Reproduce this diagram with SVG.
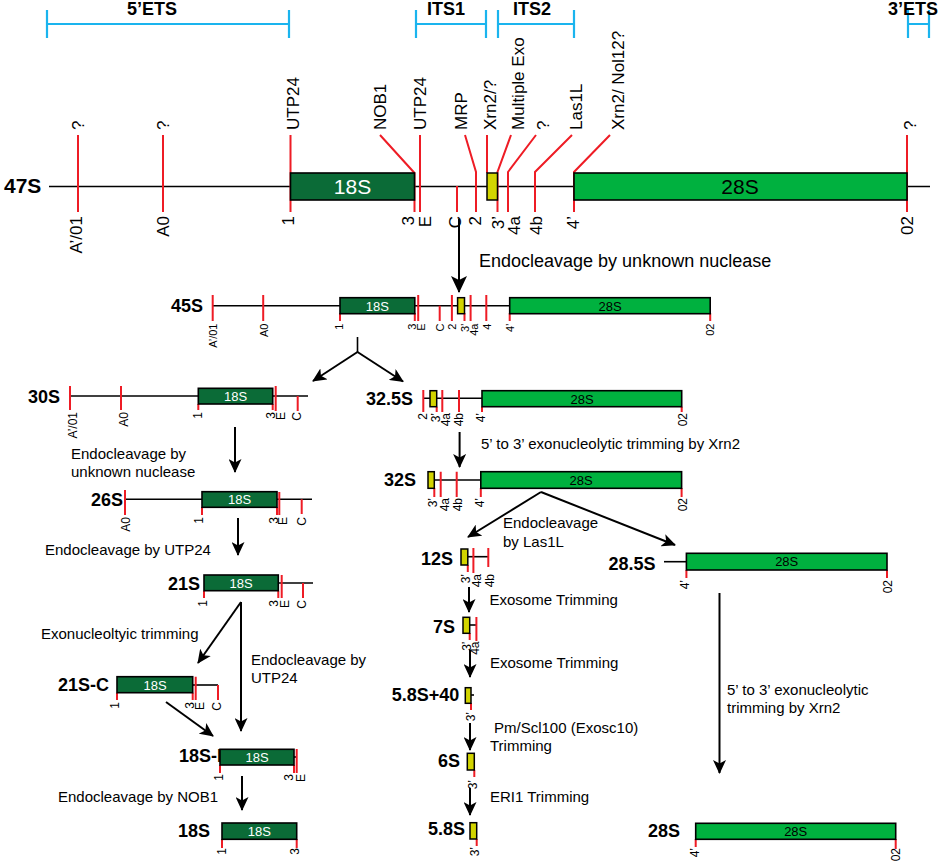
<svg xmlns="http://www.w3.org/2000/svg" width="941" height="862" viewBox="0 0 941 862">
<style>
text{font-family:"Liberation Sans",Arial,sans-serif;fill:#000}
.rl{font-weight:bold;font-size:18px;text-anchor:end}
.hd{font-weight:bold;font-size:18px}
.cap{font-size:15px}
.tl{font-size:17px}
.bl{font-size:17px;text-anchor:end}
.ml{font-size:11px;text-anchor:end}
.sl{font-size:12px;text-anchor:end}
.bk{stroke:#000;stroke-width:1.6;fill:none}
.rd{stroke:#ee1c25;stroke-width:2;fill:none}
.cy{stroke:#1ab4ee;stroke-width:2.2;fill:none}
.dg{fill:#0b6b37;stroke:#000;stroke-width:1.6}
.lg{fill:#00b13f;stroke:#000;stroke-width:1.6}
.yl{fill:#d2d400;stroke:#000;stroke-width:1.5}
.wt{fill:#fff;text-anchor:middle;font-size:13px}
.bt{text-anchor:middle;font-size:13px}
.ar{stroke:#000;stroke-width:2;fill:none;marker-end:url(#ah)}
.arb{stroke:#000;stroke-width:2;fill:none;marker-end:url(#ahb)}
</style>
<defs>
<marker id="ah" markerUnits="userSpaceOnUse" markerWidth="14" markerHeight="13" viewBox="0 0 14 13" refX="13" refY="6.5" orient="auto"><path d="M0,0 L14,6.5 L0,13 L3.5,6.5 Z" fill="#000"/></marker>
<marker id="ahb" markerUnits="userSpaceOnUse" markerWidth="17" markerHeight="16" viewBox="0 0 17 16" refX="16" refY="8" orient="auto"><path d="M0,0 L17,8 L0,16 L4,8 Z" fill="#000"/></marker>
</defs>

<g id="regions">
<path class="cy" d="M47,24 H289 M47,10 V38 M289,10 V38"/>
<path class="cy" d="M416,24 H486 M416,10 V38 M486,10 V38"/>
<path class="cy" d="M498,24 H574 M498,10 V38 M574,10 V38"/>
<path class="cy" d="M908,24 H929 M908,10 V38 M929,10 V38"/>
<text class="hd" x="152" y="15" text-anchor="middle">5’ETS</text>
<text class="hd" x="427" y="15">ITS1</text>
<text class="hd" x="513" y="15">ITS2</text>
<text class="hd" x="888" y="15">3’ETS</text>
</g>

<g id="n47S">
<line class="bk" x1="49" y1="186.5" x2="930" y2="186.5"/>
<path class="rd" d="M78,135 V212 M163,135 V212 M290.5,135 V212 M380,135 L414.5,173 V212 M420,135 V212 M457,186 V212 M465,135 L476,172 V212 M487,135 V173 M511,135 L497.5,172 V212 M536,135 L508,172 V212 M572,135 L535,172 V212 M610,135 L574,172 V212 M907,135 V212"/>
<rect class="dg" x="290.5" y="173" width="124" height="27" stroke-width="2"/>
<rect class="yl" x="487" y="173" width="10.5" height="27" stroke-width="2"/>
<rect class="lg" x="574" y="173" width="333" height="27" stroke-width="2"/>
<text x="352.5" y="194" text-anchor="middle" font-size="21" style="fill:#fff">18S</text>
<text x="740" y="194" text-anchor="middle" font-size="21">28S</text>
<text x="4" y="193" font-weight="bold" font-size="21">47S</text>
<text class="tl" transform="translate(84,130) rotate(-90)">?</text>
<text class="tl" transform="translate(169,130) rotate(-90)">?</text>
<text class="tl" transform="translate(298.5,130) rotate(-90)">UTP24</text>
<text class="tl" transform="translate(385.5,130) rotate(-90)">NOB1</text>
<text class="tl" transform="translate(426,130) rotate(-90)">UTP24</text>
<text class="tl" transform="translate(466.5,130) rotate(-90)">MRP</text>
<text class="tl" transform="translate(495.5,130) rotate(-90)">Xrn2/?</text>
<text class="tl" transform="translate(523.5,130) rotate(-90)">Multiple Exo</text>
<text class="tl" transform="translate(548.5,130) rotate(-90)">?</text>
<text class="tl" transform="translate(581.5,130) rotate(-90)">Las1L</text>
<text class="tl" transform="translate(623.5,130) rotate(-90)">Xrn2/ Nol12?</text>
<text class="tl" transform="translate(915.5,130) rotate(-90)">?</text>
<text class="bl" transform="translate(82,216) rotate(-90)">A’/01</text>
<text class="bl" transform="translate(168.5,216) rotate(-90)">A0</text>
<text class="bl" transform="translate(293.5,216) rotate(-90)">1</text>
<text class="bl" transform="translate(414,216) rotate(-90)">3</text>
<text class="bl" transform="translate(431,216) rotate(-90)">E</text>
<text class="bl" transform="translate(461,216) rotate(-90)">C</text>
<text class="bl" transform="translate(481,216) rotate(-90)">2</text>
<text class="bl" transform="translate(503.5,216) rotate(-90)">3’</text>
<text class="bl" transform="translate(519.5,216) rotate(-90)">4a</text>
<text class="bl" transform="translate(542,216) rotate(-90)">4b</text>
<text class="bl" transform="translate(578.5,216) rotate(-90)">4’</text>
<text class="bl" transform="translate(912.5,216) rotate(-90)">02</text>
</g>

<g id="n45S">
<line class="bk" x1="212.7" y1="305.7" x2="711" y2="305.7"/>
<path class="rd" d="M212.7,295 V321 M263.2,295 V321 M340,313 V321 M414.8,313 V321 M418.2,295 V321 M439.7,305.7 V321 M451.9,295 V321 M464.5,313 V321 M470.6,295 V321 M486.3,295 V321 M509.7,313 V321 M710.2,313 V321"/>
<rect class="dg" x="340" y="297.7" width="74.8" height="16"/>
<rect class="yl" x="457.6" y="297.7" width="6.9" height="16"/>
<rect class="lg" x="509.7" y="297.7" width="200.5" height="16"/>
<text class="wt" x="377.4" y="310.5" style="fill:#fff">18S</text>
<text class="bt" x="610" y="310.5">28S</text>
<text class="rl" x="203" y="312">45S</text>
<text class="ml" transform="translate(216.7,323.5) rotate(-90)">A’/01</text>
<text class="ml" transform="translate(268,323.5) rotate(-90)">A0</text>
<text class="ml" transform="translate(343,323.5) rotate(-90)">1</text>
<text class="ml" transform="translate(415.5,323.5) rotate(-90)">3</text>
<text class="ml" transform="translate(424.5,323.5) rotate(-90)">E</text>
<text class="ml" transform="translate(444,323.5) rotate(-90)">C</text>
<text class="ml" transform="translate(456,323.5) rotate(-90)">2</text>
<text class="ml" transform="translate(468.5,323.5) rotate(-90)">3’</text>
<text class="ml" transform="translate(478,323.5) rotate(-90)">4a</text>
<text class="ml" transform="translate(490.5,323.5) rotate(-90)">4</text>
<text class="ml" transform="translate(514,323.5) rotate(-90)">4’</text>
<text class="ml" transform="translate(714,323.5) rotate(-90)">02</text>
</g>

<g id="n30S">
<line class="bk" x1="70" y1="396" x2="308" y2="396"/>
<path class="rd" d="M70,386 V410 M121,386 V410 M198.3,404 V410 M272.7,404 V410 M275.7,386 V411 M297.7,396 V411"/>
<rect class="dg" x="198.3" y="388.3" width="74.4" height="15.7"/>
<text class="wt" x="235.5" y="400.8" style="fill:#fff">18S</text>
<text class="rl" x="60" y="403">30S</text>
<text class="sl" transform="translate(76.8,412) rotate(-90)">A’/01</text>
<text class="sl" transform="translate(127.8,412) rotate(-90)">A0</text>
<text class="sl" transform="translate(201.8,412) rotate(-90)">1</text>
<text class="sl" transform="translate(275.3,412) rotate(-90)">3</text>
<text class="sl" transform="translate(284.8,412) rotate(-90)">E</text>
<text class="sl" transform="translate(301.3,412) rotate(-90)">C</text>
</g>

<g id="n32_5S">
<line class="bk" x1="423" y1="398.3" x2="482" y2="398.3"/>
<path class="rd" d="M423.3,390 V412 M436.7,406.7 V412 M442.3,390 V412 M459,390 V412 M482,406.7 V412 M681.7,406.7 V412"/>
<rect class="yl" x="430" y="390.7" width="6.7" height="16"/>
<rect class="lg" x="482" y="390.7" width="199.7" height="16"/>
<text class="bt" x="582" y="403.5">28S</text>
<text class="rl" x="413" y="405">32.5S</text>
<text class="sl" transform="translate(426.8,413) rotate(-90)">2</text>
<text class="sl" transform="translate(440.3,413) rotate(-90)">3’</text>
<text class="sl" transform="translate(450.3,413) rotate(-90)">4a</text>
<text class="sl" transform="translate(462.8,413) rotate(-90)">4b</text>
<text class="sl" transform="translate(485.3,413) rotate(-90)">4’</text>
<text class="sl" transform="translate(687.3,413) rotate(-90)">02</text>
</g>

<g id="n26S">
<line class="bk" x1="125" y1="499.3" x2="312" y2="499.3"/>
<path class="rd" d="M125,490 V515 M202,507 V515 M277,507 V515 M279.3,492 V515 M301.7,499.3 V514"/>
<rect class="dg" x="202" y="491.7" width="75" height="15.6"/>
<text class="wt" x="239.5" y="504.2" style="fill:#fff">18S</text>
<text class="rl" x="123" y="506">26S</text>
<text class="sl" transform="translate(130.3,517) rotate(-90)">A0</text>
<text class="sl" transform="translate(203.3,517) rotate(-90)">1</text>
<text class="sl" transform="translate(278.3,517) rotate(-90)">3</text>
<text class="sl" transform="translate(287.3,517) rotate(-90)">E</text>
<text class="sl" transform="translate(306.3,517) rotate(-90)">C</text>
</g>

<g id="n32S">
<line class="bk" x1="434" y1="480" x2="481" y2="480"/>
<path class="rd" d="M434.3,488 V497 M440.7,471.7 V497 M456.7,471.7 V497 M480.8,488 V497 M681.6,488 V497"/>
<rect class="yl" x="428" y="471.7" width="6.3" height="16.6"/>
<rect class="lg" x="480.8" y="471.7" width="200.8" height="16.6"/>
<text class="bt" x="581" y="485">28S</text>
<text class="rl" x="416" y="486">32S</text>
<text class="sl" transform="translate(436.8,498) rotate(-90)">3’</text>
<text class="sl" transform="translate(449.1,498) rotate(-90)">4a</text>
<text class="sl" transform="translate(461.7,498) rotate(-90)">4b</text>
<text class="sl" transform="translate(484,498) rotate(-90)">4’</text>
<text class="sl" transform="translate(687,498) rotate(-90)">02</text>
</g>

<g id="n21S">
<line class="bk" x1="204" y1="583" x2="313" y2="583"/>
<path class="rd" d="M204,590.7 V598 M278.3,590.7 V598 M281.7,575 V598 M303,583 V598"/>
<rect class="dg" x="204" y="575" width="74.3" height="15.7"/>
<text class="wt" x="241" y="587.6" style="fill:#fff">18S</text>
<text class="rl" x="200" y="590">21S</text>
<text class="sl" transform="translate(207.3,600) rotate(-90)">1</text>
<text class="sl" transform="translate(278.3,600) rotate(-90)">3</text>
<text class="sl" transform="translate(289.3,600) rotate(-90)">E</text>
<text class="sl" transform="translate(306.3,600) rotate(-90)">C</text>
</g>

<g id="n12S">
<line class="bk" x1="467.8" y1="556.7" x2="488.3" y2="556.7"/>
<path class="rd" d="M467.8,565 V572 M473.4,548 V573 M488.3,548 V567"/>
<rect class="yl" x="461" y="549" width="6.8" height="16"/>
<text class="rl" x="453" y="565">12S</text>
<text class="sl" transform="translate(470.3,574) rotate(-90)">3’</text>
<text class="sl" transform="translate(481.3,574) rotate(-90)">4a</text>
<text class="sl" transform="translate(493.7,574) rotate(-90)">4b</text>
</g>

<g id="n28_5S">
<line class="bk" x1="664" y1="561.7" x2="686.4" y2="561.7"/>
<path class="rd" d="M686.4,570 V578 M887,570 V578"/>
<rect class="lg" x="686.4" y="553.3" width="200.6" height="16.7"/>
<text class="bt" x="786.7" y="566.3">28S</text>
<text class="rl" x="655.5" y="570">28.5S</text>
<text class="sl" transform="translate(689.3,580) rotate(-90)">4’</text>
<text class="sl" transform="translate(892.3,580) rotate(-90)">02</text>
</g>

<g id="n7S">
<line class="bk" x1="469.7" y1="625" x2="476.4" y2="625"/>
<path class="rd" d="M469.7,633 V640 M476.4,617 V641"/>
<rect class="yl" x="463" y="617.3" width="6.7" height="16"/>
<text class="rl" x="455" y="633.3">7S</text>
<text class="sl" transform="translate(470.8,641.5) rotate(-90)">3’</text>
<text class="sl" transform="translate(479.3,641.5) rotate(-90)">4a</text>
</g>

<g id="n21S-C">
<line class="bk" x1="192.7" y1="685" x2="218" y2="685"/>
<path class="rd" d="M117,692.7 V700 M192.7,692.7 V700 M195.7,676.7 V700 M218,685 V700"/>
<rect class="dg" x="117" y="676.7" width="75.7" height="16"/>
<text class="wt" x="155" y="689.5" style="fill:#fff">18S</text>
<text class="rl" x="109" y="691">21S-C</text>
<text class="sl" transform="translate(119.3,702) rotate(-90)">1</text>
<text class="sl" transform="translate(194.3,702) rotate(-90)">3</text>
<text class="sl" transform="translate(204.3,702) rotate(-90)">E</text>
<text class="sl" transform="translate(221.3,702) rotate(-90)">C</text>
</g>

<g id="n5_8S40">
<line class="bk" x1="471" y1="695" x2="474" y2="695"/>
<path class="rd" d="M471,703 V710"/>
<rect class="yl" x="465.3" y="687.7" width="5.7" height="15.6"/>
<text class="rl" x="459.3" y="701">5.8S+40</text>
<text class="sl" transform="translate(475.3,712) rotate(-90)">3’</text>
</g>

<g id="n18S-E">
<text x="179" y="762" font-weight="bold" font-size="18">18S-E</text>
<line class="bk" x1="294" y1="757" x2="297" y2="757"/>
<path class="rd" d="M220,765 V773 M294,765 V773 M296.7,749 V773"/>
<rect class="dg" x="220" y="749.3" width="74" height="15.7"/>
<text class="wt" x="257" y="761.8" style="fill:#fff">18S</text>
<text class="sl" transform="translate(223.3,774) rotate(-90)">1</text>
<text class="sl" transform="translate(293.3,774) rotate(-90)">3</text>
<text class="sl" transform="translate(305.3,774) rotate(-90)">E</text>
</g>

<g id="n6S">
<path class="rd" d="M474.3,770 V777"/>
<rect class="yl" x="467.3" y="753.3" width="7" height="16.7"/>
<text class="rl" x="460" y="767">6S</text>
<text class="sl" transform="translate(476.8,780) rotate(-90)">3’</text>
</g>

<g id="n18S">
<path class="rd" d="M222,839 V848 M296.7,839 V848"/>
<rect class="dg" x="222" y="823" width="74.7" height="16.3"/>
<text class="wt" x="259.3" y="835.8" style="fill:#fff">18S</text>
<text class="rl" x="210" y="837">18S</text>
<text class="sl" transform="translate(225.8,848) rotate(-90)">1</text>
<text class="sl" transform="translate(299.3,848) rotate(-90)">3</text>
</g>

<g id="n5_8S">
<path class="rd" d="M476.7,839 V846"/>
<rect class="yl" x="470" y="822.7" width="6.7" height="16.3"/>
<text class="rl" x="465" y="835">5.8S</text>
<text class="sl" transform="translate(479.3,847) rotate(-90)">3’</text>
</g>

<g id="n28S">
<path class="rd" d="M695.7,839 V847 M895.7,839 V849"/>
<rect class="lg" x="695.7" y="823.3" width="200" height="16"/>
<text class="bt" x="795.7" y="836">28S</text>
<text class="rl" x="680" y="837">28S</text>
<text class="sl" transform="translate(699.3,848) rotate(-90)">4’</text>
<text class="sl" transform="translate(900.3,848) rotate(-90)">02</text>
</g>

<g id="connectors">
<line class="arb" x1="459" y1="219" x2="459" y2="292"/>
<path class="bk" stroke-width="2" d="M357.5,337 V352"/>
<line class="ar" x1="357.5" y1="352" x2="313" y2="381"/>
<line class="ar" x1="357.5" y1="352" x2="403" y2="381.5"/>
<line class="ar" x1="235" y1="427" x2="235" y2="472"/>
<line class="ar" x1="238" y1="518" x2="238" y2="555"/>
<line class="ar" x1="241" y1="602" x2="198" y2="663"/>
<line class="ar" x1="241" y1="602" x2="241" y2="731"/>
<line class="ar" x1="166" y1="702" x2="213" y2="736"/>
<line class="ar" x1="242" y1="776" x2="242" y2="810"/>
<line class="ar" x1="459.6" y1="432" x2="459.6" y2="467"/>
<line class="ar" x1="541" y1="492" x2="468" y2="537"/>
<line class="ar" x1="541" y1="492" x2="675" y2="545"/>
<line class="ar" x1="469" y1="587" x2="469" y2="612"/>
<line class="ar" x1="470" y1="650" x2="470" y2="677"/>
<line class="ar" x1="470" y1="723" x2="470" y2="750"/>
<line class="ar" x1="470" y1="788" x2="470" y2="815"/>
<line class="ar" x1="719.5" y1="593" x2="719.5" y2="773"/>
</g>

<g id="captions">
<text x="479" y="267" font-size="18">Endocleavage by unknown nuclease</text>
<text class="cap" x="71" y="459">Endocleavage by</text>
<text class="cap" x="71" y="477">unknown nuclease</text>
<text class="cap" x="45" y="555">Endocleavage by UTP24</text>
<text class="cap" x="41" y="639">Exonucleoltyic trimming</text>
<text class="cap" x="251" y="665">Endocleavage by</text>
<text class="cap" x="251" y="683">UTP24</text>
<text class="cap" x="58" y="802">Endocleavage by NOB1</text>
<text class="cap" x="481" y="449">5’ to 3’ exonucleolytic trimming by Xrn2</text>
<text class="cap" x="503" y="528">Endocleavage</text>
<text class="cap" x="503" y="547">by Las1L</text>
<text class="cap" x="489.5" y="605">Exosome Trimming</text>
<text class="cap" x="490" y="668">Exosome Trimming</text>
<text class="cap" x="494" y="733">Pm/Scl100 (Exosc10)</text>
<text class="cap" x="490" y="751">Trimming</text>
<text class="cap" x="490" y="802">ERI1 Trimming</text>
<text class="cap" x="727" y="695">5’ to 3’ exonucleolytic</text>
<text class="cap" x="727" y="713">trimming by Xrn2</text>
</g>
</svg>
